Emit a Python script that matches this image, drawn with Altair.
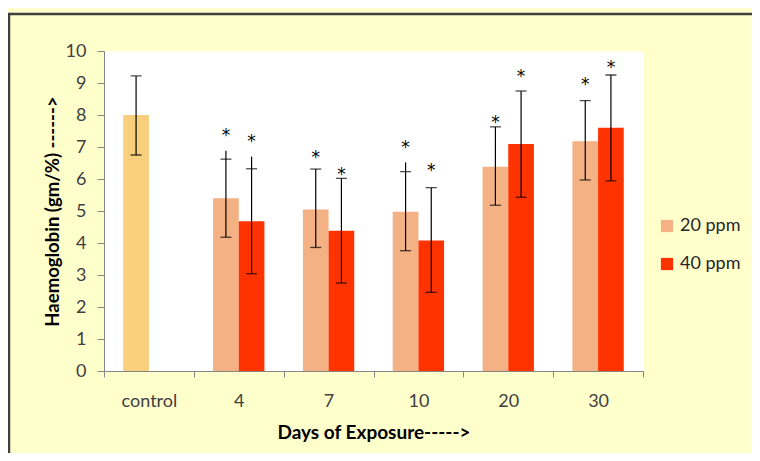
import altair as alt
import pandas as pd

categories = ["control", "4", "7", "10", "20", "30"]
days = ["4", "7", "10", "20", "30"]

control_mean = 8.0
control_low = 6.75
control_high = 9.22

ppm20_mean = [5.40, 5.05, 4.98, 6.38, 7.18]
ppm20_low = [4.18, 3.86, 3.76, 5.18, 5.97]
ppm20_high = [6.62, 6.31, 6.23, 7.63, 8.45]
ppm20_linetop = [6.88, 6.31, 6.52, 7.63, 8.45]
ppm20_star = [7.48, 6.77, 7.09, 7.88, 9.06]

ppm40_mean = [4.68, 4.38, 4.08, 7.09, 7.60]
ppm40_low = [3.04, 2.75, 2.46, 5.43, 5.94]
ppm40_high = [6.32, 6.02, 5.73, 8.75, 9.25]
ppm40_linetop = [6.70, 6.02, 5.73, 8.75, 9.25]
ppm40_star = [7.29, 6.26, 6.38, 9.32, 9.58]

rows = [dict(cat="control", series="control", slot="20 ppm", value=control_mean,
             low=control_low, high=control_high, linetop=control_high, star=None)]
for i, d in enumerate(days):
    rows.append(dict(cat=d, series="20 ppm", slot="20 ppm", value=ppm20_mean[i],
                     low=ppm20_low[i], high=ppm20_high[i], linetop=ppm20_linetop[i], star=ppm20_star[i]))
    rows.append(dict(cat=d, series="40 ppm", slot="40 ppm", value=ppm40_mean[i],
                     low=ppm40_low[i], high=ppm40_high[i], linetop=ppm40_linetop[i], star=ppm40_star[i]))
df = pd.DataFrame(rows)

FONT = "Lato"

x_axis = alt.Axis(title="Days of Exposure----->", labelAngle=0, tickBand="extent",
                  tickSize=6, labelPadding=15, titlePadding=13,
                  labelFontSize=18, labelFont=FONT, labelColor="#404040",
                  titleFont=FONT, titleFontSize=19, titleFontWeight="bold", titleColor="#000000",
                  domainColor="#868686", tickColor="#868686")
y_axis = alt.Axis(title="Haemoglobin (gm/%) ------>", values=list(range(0, 11)), grid=False,
                  tickSize=7, labelPadding=11, titlePadding=3,
                  labelFontSize=18, labelFont=FONT, labelColor="#404040", labelOverlap=False,
                  titleFont=FONT, titleFontSize=18.5, titleFontWeight="bold", titleColor="#000000",
                  domainColor="#868686", tickColor="#868686")

x_scale = alt.Scale(paddingInner=0, paddingOuter=0)
xo_scale = alt.Scale(domain=["20 ppm", "40 ppm"], paddingOuter=0.75, paddingInner=0)
y_scale = alt.Scale(domain=[0, 10], nice=False)

def xe():
    return alt.X("cat:N", sort=categories, scale=x_scale, axis=x_axis)

def ye(field):
    return alt.Y(field, scale=y_scale, axis=y_axis)

xo = alt.XOffset("slot:N", scale=xo_scale)

base = alt.Chart(df)

bars = base.mark_bar().encode(
    x=xe(),
    xOffset=xo,
    y=ye("value:Q"),
    color=alt.Color("series:N",
                    scale=alt.Scale(domain=["20 ppm", "40 ppm", "control"],
                                    range=["#F4B183", "#FF3300", "#F8CF7C"]),
                    legend=alt.Legend(values=["20 ppm", "40 ppm"], title=None, orient="none",
                                      legendX=554, legendY=166, symbolType="square", symbolSize=150,
                                      symbolStrokeWidth=0, labelFontSize=18, labelFont=FONT,
                                      labelColor="#262626", rowPadding=20, labelOffset=4)),
)

err = base.mark_rule(color="#000000", strokeWidth=1.2).encode(
    x=xe(), xOffset=xo, y=ye("low:Q"), y2="linetop:Q")

cap_lo = base.mark_tick(color="#000000", size=11, thickness=1.3).encode(
    x=xe(), xOffset=xo, y=ye("low:Q"))
cap_hi = base.mark_tick(color="#000000", size=11, thickness=1.3).encode(
    x=xe(), xOffset=xo, y=ye("high:Q"))

stars = base.transform_filter("datum.star != null").mark_text(
    text="*", fontSize=17, font="DejaVu Sans", color="#000000", baseline="alphabetic", dy=9).encode(
    x=xe(), xOffset=xo, y=ye("star:Q"))

frame_df = pd.DataFrame({"a": [0]})
frame = alt.Chart(frame_df).mark_rect(fill="transparent", stroke="#3F3F3F", strokeWidth=2.5).encode(
    x=alt.value(-95), x2=alt.value(700), y=alt.value(-37), y2=alt.value(460))

chart = alt.layer(bars, err, cap_lo, cap_hi, stars, frame).properties(
    width=539, height=320,
    autosize=alt.AutoSizeParams(type="none"),
    padding={"left": 96, "top": 43, "right": 109, "bottom": 82},
    background="#FFFFCC",
).configure_view(
    fill="#FFFFFF", stroke="transparent"
)

chart.save("out.html", embed_options={"renderer": "svg", "actions": False})
